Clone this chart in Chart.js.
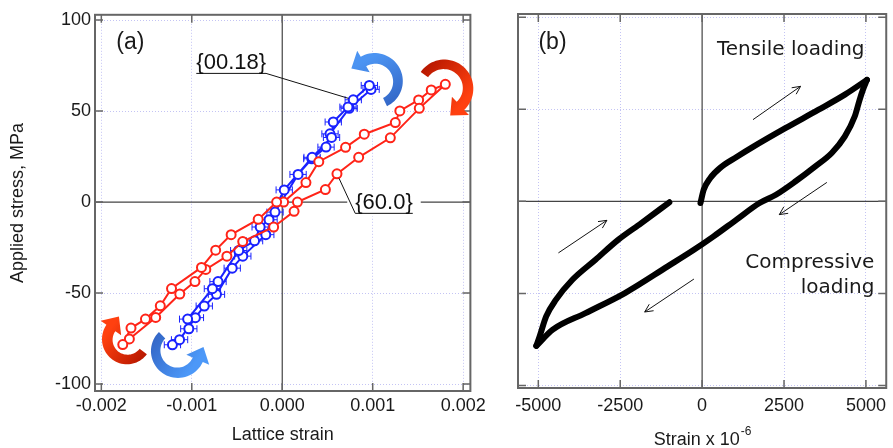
<!DOCTYPE html>
<html lang="en">
  <head>
    <title>Lattice strain and macroscopic strain hysteresis</title>
    <meta charset="UTF-8" />
    <script src="https://cdn.jsdelivr.net/npm/chart.js@4.4.0/dist/chart.umd.min.js"></script>
    <style>
      body { margin: 0; background: #fff; }
      #wrap { position: relative; width: 893px; height: 448px; }
      #chartA { position: absolute; left: 0; top: 0; }
      #chartB { position: absolute; left: 490px; top: 0; }
    </style>
  </head>
  <body>
    <div id="wrap">
      <canvas id="chartA" width="490" height="448"></canvas>
      <canvas id="chartB" width="403" height="448"></canvas>
    </div>
    <script>
      // ---- (a) lattice strain vs applied stress ----
      // {60.0} grains, in measuring order
      const redStrain = [0.000015, 0.000262, 0.000404, 0.0007, 0.000907, 0.00125, 0.0013, 0.001508, 0.001647, 0.001803,
        0.001515, 0.001195, 0.000845, 0.000605, 0.000477, 0.000168, 0.000131, -0.000095, -0.000437, -0.000612,
        -0.000845, -0.000965, -0.001133, -0.001399, -0.00169, -0.001763, -0.001672, -0.001512, -0.001348, -0.001224,
        -0.000893, -0.000736, -0.000565, -0.000266, -0.000062];
      const redStress = [0, 10.7, 22.2, 30.1, 37.3, 43.7, 50.1, 56.1, 61.6, 64.7,
        51.5, 35.3, 24.6, 15.5, 6.9, 0, -5.1, -13.7, -21.7, -29.7,
        -37, -43.7, -50.5, -63.4, -75.2, -78.3, -69.2, -64.3, -57, -47.5,
        -35.9, -26.4, -17.9, -9.5, 0];
      // {00.18} grains, with horizontal error bars
      const blueStrain = [-0.001214, -0.001135, -0.00096, -0.000862, -0.000727, -0.000553, -0.000436, -0.000182, -0.00008, 0.000175,
        0.000327, 0.000484, 0.000528, 0.00074, 0.000982, 0.000963, 0.000785, 0.000727, 0.000564, 0.000545,
        0.00033, 0.000022, -0.000146, -0.000244, -0.000306, -0.000481, -0.00071, -0.000772, -0.001046, -0.001033];
      const blueStress = [-78.4, -75.6, -63.5, -57.1, -50.7, -36.3, -29.7, -17.9, -5.5, 15.2,
        23.8, 30.2, 37.5, 51.5, 61.9, 64.1, 56.2, 52.2, 44, 35.5,
        24.6, 6.7, -9.7, -13.7, -21.3, -26.6, -43.7, -47.6, -64.3, -69.6];
      const blueErr = [0.00009, 0.00009, 0.00009, 0.00009, 0.00009, 0.00009, 0.00009, 0.00009, 0.00009, 0.00009,
        0.00009, 0.00009, 0.00009, 0.00009, 0.00009, 0.00009, 0.00009, 0.00009, 0.00009, 0.00009,
        0.00009, 0.00009, 0.00009, 0.00009, 0.00009, 0.00009, 0.00009, 0.00009, 0.00009, 0.00009];

      // ---- (b) macroscopic strain (x 10^-6) vs stress ----
      const tensileStrain = [-50, 50, 250, 550, 1052, 1553, 2554, 3555, 4357, 5030];
      const tensileStress = [-0.9, 6.4, 12.7, 18.2, 24.1, 29.6, 39.9, 49.8, 58, 66];
      const compStrain = [5030, 4910, 4810, 4660, 4357, 3957, 3456, 2855, 2254, 1753, 1052, 351, -250, -1050, -2355, -3560, -4560, -5060];
      const compStress = [66, 60.7, 55.3, 46.2, 35.3, 26.3, 19, 10.9, 3.6, -0.9, -9.9, -19, -26.3, -35.3, -49.8, -60.7, -69.7, -78.5];
      const reloadStrain = [-5060, -4960, -4760, -4460, -3960, -3255, -2555, -1855, -1000];
      const reloadStress = [-78.5, -73.4, -62.5, -53.4, -42.6, -31.7, -20.8, -11.8, -0.5];

      // tick values
      const xTicksA = [-0.002, -0.001, 0, 0.001, 0.002];
      const xTicksB = [-5000, -2500, 0, 2500, 5000];
      const yTicks = [-100, -50, 0, 50, 100];

      const RED = '#ff2418';
      const BLUE = '#1a22ff';
      const SANS = '"Liberation Sans", Arial, sans-serif';
      Chart.defaults.font.family = SANS;
      Chart.defaults.color = '#1a1a1a';

      function pts(xs, ys) {
        return xs.map((v, i) => ({ x: v, y: ys[i] }));
      }

      // zero lines, frame and inward tick marks
      const framePlugin = {
        id: 'frame',
        beforeDatasetsDraw(chart) {
          const { ctx, chartArea: a, scales: { x, y } } = chart;
          ctx.save();
          ctx.strokeStyle = '#444';
          ctx.lineWidth = 1.2;
          const x0 = x.getPixelForValue(0), y0 = y.getPixelForValue(0);
          ctx.beginPath();
          ctx.moveTo(x0, a.top); ctx.lineTo(x0, a.bottom);
          ctx.moveTo(a.left, y0); ctx.lineTo(a.right, y0);
          ctx.stroke();
          ctx.strokeStyle = '#666';
          ctx.lineWidth = 2;
          ctx.strokeRect(a.left, a.top, a.width, a.height);
          ctx.lineWidth = 1.5;
          ctx.beginPath();
          x.ticks.forEach(t => {
            const px = x.getPixelForValue(t.value);
            ctx.moveTo(px, a.top); ctx.lineTo(px, a.top + 8);
            ctx.moveTo(px, a.bottom); ctx.lineTo(px, a.bottom - 8);
          });
          y.ticks.forEach(t => {
            const py = y.getPixelForValue(t.value);
            ctx.moveTo(a.left, py); ctx.lineTo(a.left + 8, py);
            ctx.moveTo(a.right, py); ctx.lineTo(a.right - 8, py);
          });
          ctx.stroke();
          ctx.restore();
        }
      };

      // thick curved block arrow, angles in degrees (canvas orientation)
      function curlArrow(ctx, cx, cy, r, from, to, c0, c1) {
        const a0 = from * Math.PI / 180, a1 = to * Math.PI / 180;
        const dir = a1 > a0 ? 1 : -1;
        const n = 40, w0 = 9, w1 = 11, headW = 25, headL = 14;
        const outer = [], inner = [];
        for (let i = 0; i <= n; i++) {
          const t = i / n, ang = a0 + (a1 - a0) * t, w = (w0 + (w1 - w0) * t) / 2;
          outer.push([cx + (r + w) * Math.cos(ang), cy + (r + w) * Math.sin(ang)]);
          inner.push([cx + (r - w) * Math.cos(ang), cy + (r - w) * Math.sin(ang)]);
        }
        const ex = cx + r * Math.cos(a1), ey = cy + r * Math.sin(a1);
        const tx = -Math.sin(a1) * dir, ty = Math.cos(a1) * dir;
        const nx = Math.cos(a1), ny = Math.sin(a1);
        const g = ctx.createLinearGradient(outer[0][0], outer[0][1], ex, ey);
        g.addColorStop(0, c0);
        g.addColorStop(1, c1);
        ctx.beginPath();
        ctx.moveTo(outer[0][0], outer[0][1]);
        outer.forEach(p => ctx.lineTo(p[0], p[1]));
        ctx.lineTo(ex + nx * headW / 2, ey + ny * headW / 2);
        ctx.lineTo(ex + tx * headL, ey + ty * headL);
        ctx.lineTo(ex - nx * headW / 2, ey - ny * headW / 2);
        for (let i = inner.length - 1; i >= 0; i--) ctx.lineTo(inner[i][0], inner[i][1]);
        ctx.closePath();
        ctx.fillStyle = g;
        ctx.fill();
      }

      function underlinedLabel(ctx, text, x, y, tx, ty, whiteBg) {
        ctx.font = '22px ' + SANS;
        const w = ctx.measureText(text).width;
        if (whiteBg) {
          ctx.fillStyle = '#fff';
          ctx.fillRect(x - 8, y - 13, w + 16, 26);
        }
        ctx.fillStyle = '#111';
        ctx.textAlign = 'left';
        ctx.textBaseline = 'middle';
        ctx.fillText(text, x, y);
        ctx.strokeStyle = '#111';
        ctx.lineWidth = 1;
        ctx.beginPath();
        ctx.moveTo(x, y + 10); ctx.lineTo(x + w, y + 10);
        const sx = whiteBg ? x : x + w;
        const d = Math.hypot(tx - sx, ty - y - 10);
        ctx.moveTo(sx, y + 10);
        ctx.lineTo(tx - (tx - sx) / d * 5, ty - (ty - y - 10) / d * 5);
        ctx.stroke();
      }

      const curls = [
        { x: 0.001789, y: 62.5, r: 24, from: -145, to: 47, c0: '#b81800', c1: '#ff4010' },
        { x: -0.001713, y: -75.5, r: 20, from: 37, to: 215, c0: '#b81800', c1: '#ff4010' },
        { x: 0.001025, y: 66.3, r: 23, from: 64, to: -120, c0: '#3468c8', c1: '#4c94f2' },
        { x: -0.001156, y: -81.7, r: 22, from: 225, to: 24, c0: '#3468c8', c1: '#4c98f8' }
      ];

      const annotA = {
        id: 'annotA',
        beforeDatasetsDraw(chart) {
          const { ctx, scales: { x, y } } = chart;
          ctx.save();
          ctx.strokeStyle = BLUE;
          ctx.lineWidth = 1;
          ctx.beginPath();
          blueStrain.forEach((v, i) => {
            const xl = x.getPixelForValue(v - blueErr[i]), xr = x.getPixelForValue(v + blueErr[i]);
            const py = y.getPixelForValue(blueStress[i]);
            ctx.moveTo(xl, py); ctx.lineTo(xr, py);
            ctx.moveTo(xl, py - 3.5); ctx.lineTo(xl, py + 3.5);
            ctx.moveTo(xr, py - 3.5); ctx.lineTo(xr, py + 3.5);
          });
          ctx.stroke();
          ctx.restore();
        },
        afterDatasetsDraw(chart) {
          const { ctx, scales: { x, y } } = chart;
          ctx.save();
          ctx.font = '23px ' + SANS;
          ctx.fillStyle = '#1a1a1a';
          ctx.textAlign = 'center';
          ctx.textBaseline = 'middle';
          ctx.fillText('(a)', x.getPixelForValue(-0.00168), y.getPixelForValue(87.7));
          underlinedLabel(ctx, '{00.18}', x.getPixelForValue(-0.00095), y.getPixelForValue(76.2),
            x.getPixelForValue(0.000785), y.getPixelForValue(56.2), false);
          underlinedLabel(ctx, '{60.0}', x.getPixelForValue(0.000807), y.getPixelForValue(-0.7),
            x.getPixelForValue(0.000605), y.getPixelForValue(15.5), true);
          curls.forEach(c => curlArrow(ctx, x.getPixelForValue(c.x), y.getPixelForValue(c.y), c.r, c.from, c.to, c.c0, c.c1));
          ctx.restore();
        }
      };

      function thinArrow(ctx, x1, y1, x2, y2) {
        const ang = Math.atan2(y2 - y1, x2 - x1), L = 9;
        ctx.beginPath();
        ctx.moveTo(x1, y1); ctx.lineTo(x2, y2);
        ctx.moveTo(x2 - L * Math.cos(ang - 0.45), y2 - L * Math.sin(ang - 0.45));
        ctx.lineTo(x2, y2);
        ctx.lineTo(x2 - L * Math.cos(ang + 0.45), y2 - L * Math.sin(ang + 0.45));
        ctx.stroke();
      }

      const arrowsB = [
        [1553, 44.4, 3005, 62.5],
        [3808, 10.3, 2355, -7.2],
        [-4387, -28, -2906, -10.3],
        [-250, -42.2, -1753, -60.1]
      ];

      const annotB = {
        id: 'annotB',
        afterDatasetsDraw(chart) {
          const { ctx, chartArea: a, scales: { x, y } } = chart;
          ctx.save();
          ctx.strokeStyle = '#111';
          ctx.lineWidth = 1;
          arrowsB.forEach(p => thinArrow(ctx, x.getPixelForValue(p[0]), y.getPixelForValue(p[1]),
            x.getPixelForValue(p[2]), y.getPixelForValue(p[3])));
          ctx.fillStyle = '#1a1a1a';
          ctx.textBaseline = 'middle';
          ctx.font = '23px ' + SANS;
          ctx.textAlign = 'center';
          ctx.fillText('(b)', x.getPixelForValue(-4567), y.getPixelForValue(86.3));
          ctx.font = '20px "DejaVu Sans", Verdana, sans-serif';
          ctx.textAlign = 'left';
          ctx.fillText('Tensile loading', x.getPixelForValue(451), y.getPixelForValue(82.4));
          ctx.textAlign = 'right';
          ctx.fillText('Compressive', x.getPixelForValue(5258), y.getPixelForValue(-33.3));
          ctx.fillText('loading', x.getPixelForValue(5258), y.getPixelForValue(-46.9));
          // axis title with superscript
          ctx.font = '18px ' + SANS;
          const main = 'Strain x 10', sup = '-6';
          const w1 = ctx.measureText(main).width;
          ctx.font = '12px ' + SANS;
          const w2 = ctx.measureText(sup).width;
          const left = (a.left + a.right) / 2 - (w1 + w2) / 2;
          ctx.textAlign = 'left';
          ctx.textBaseline = 'alphabetic';
          ctx.font = '18px ' + SANS;
          ctx.fillText(main, left, 445);
          ctx.font = '12px ' + SANS;
          ctx.fillText(sup, left + w1 + 1, 435);
          ctx.restore();
        }
      };

      const gridOpts = {
        color: c => (c.tick && c.tick.value === 0 ? 'rgba(0,0,0,0)' : '#c4c4f4'),
        lineWidth: 1,
        drawTicks: false
      };
      const borderOpts = { display: false, dash: [1, 2] };

      new Chart(document.getElementById('chartA'), {
        type: 'scatter',
        data: {
          datasets: [
            {
              label: '{60.0}',
              data: pts(redStrain, redStress),
              showLine: true,
              borderColor: RED,
              borderWidth: 2,
              pointRadius: 4.5,
              pointBorderWidth: 2,
              pointBorderColor: RED,
              pointBackgroundColor: '#fff'
            },
            {
              label: '{00.18}',
              data: pts(blueStrain, blueStress),
              showLine: true,
              borderColor: BLUE,
              borderWidth: 2,
              pointRadius: 4.5,
              pointBorderWidth: 2,
              pointBorderColor: BLUE,
              pointBackgroundColor: '#fff'
            }
          ]
        },
        options: {
          responsive: false,
          animation: false,
          layout: { padding: { top: 13, right: 17, left: 0, bottom: 0 } },
          plugins: { legend: { display: false }, tooltip: { enabled: false } },
          scales: {
            x: {
              type: 'linear',
              min: -0.00207,
              max: 0.00208,
              afterBuildTicks: s => { s.ticks = xTicksA.map(v => ({ value: v })); },
              afterFit: s => { s.height = 57; },
              ticks: {
                padding: 4,
                font: { size: 18 },
                callback: v => (Math.abs(v) < 1e-9 ? '0.000' : v.toFixed(3))
              },
              grid: gridOpts,
              border: borderOpts,
              title: { display: true, text: 'Lattice strain', font: { size: 18 }, padding: { top: 0, bottom: 2 } }
            },
            y: {
              min: -103.8,
              max: 102.9,
              afterBuildTicks: s => { s.ticks = yTicks.map(v => ({ value: v })); },
              afterFit: s => { s.width = 95; },
              ticks: { padding: 4, font: { size: 18 }, callback: v => String(v) },
              grid: gridOpts,
              border: borderOpts,
              title: { display: true, text: 'Applied stress, MPa', font: { size: 18 }, padding: { top: 7, bottom: 0 } }
            }
          }
        },
        plugins: [framePlugin, annotA]
      });

      const curveStyle = {
        showLine: true,
        borderColor: '#000',
        borderWidth: 6,
        borderCapStyle: 'round',
        borderJoinStyle: 'round',
        cubicInterpolationMode: 'monotone',
        pointRadius: 0
      };

      new Chart(document.getElementById('chartB'), {
        type: 'scatter',
        data: {
          datasets: [
            Object.assign({ label: 'Tensile loading', data: pts(tensileStrain, tensileStress) }, curveStyle),
            Object.assign({ label: 'Compressive loading', data: pts(compStrain, compStress) }, curveStyle),
            Object.assign({ label: 'Reloading', data: pts(reloadStrain, reloadStress) }, curveStyle)
          ]
        },
        options: {
          responsive: false,
          animation: false,
          layout: { padding: { top: 14, right: 1, left: 0, bottom: 0 } },
          plugins: { legend: { display: false }, tooltip: { enabled: false } },
          scales: {
            x: {
              type: 'linear',
              min: -5620,
              max: 5620,
              afterBuildTicks: s => { s.ticks = xTicksB.map(v => ({ value: v })); },
              afterFit: s => { s.height = 60; },
              ticks: { padding: 7, font: { size: 18 }, callback: v => String(v) },
              grid: gridOpts,
              border: borderOpts
            },
            y: {
              min: -101.4,
              max: 101.8,
              afterBuildTicks: s => { s.ticks = yTicks.map(v => ({ value: v })); },
              afterFit: s => { s.width = 28; },
              ticks: { display: false },
              grid: gridOpts,
              border: borderOpts
            }
          }
        },
        plugins: [framePlugin, annotB]
      });
    </script>
  </body>
</html>
